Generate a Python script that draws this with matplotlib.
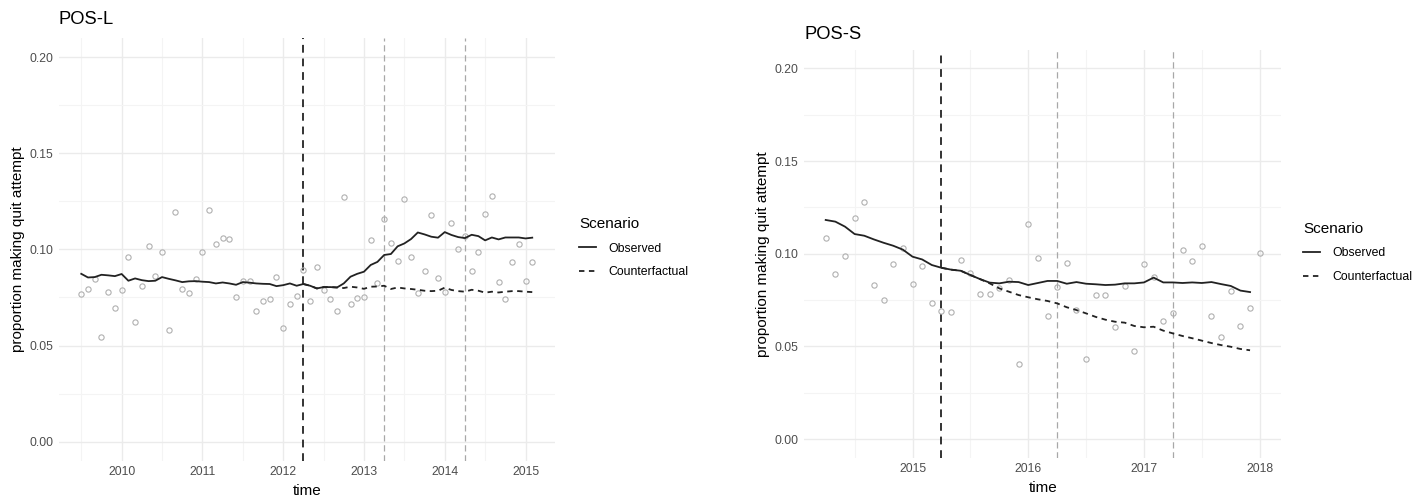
import numpy as np
import matplotlib
matplotlib.use("Agg")
import matplotlib.pyplot as plt
from matplotlib.lines import Line2D

plt.rcParams['font.family'] = ['Liberation Sans', 'DejaVu Sans']

# ---- POS-L : monthly from Jul 2009 ----
L_START = 2009.5
L_POINTS = [0.0769, 0.0792, 0.0847, 0.0546, 0.0776, 0.0693, 0.0789, 0.0960, 0.0622, 0.0809,
            0.1016, 0.0860, 0.0988, 0.0579, 0.1194, 0.0795, 0.0775, 0.0846, 0.0988, 0.1205,
            0.1028, 0.1061, 0.1054, 0.0752, 0.0834, 0.0837, 0.0679, 0.0733, 0.0743, 0.0856,
            0.0589, 0.0716, 0.0756, 0.0891, 0.0730, 0.0908, 0.0787, 0.0743, 0.0679, 0.1274,
            0.0718, 0.0745, 0.0752, 0.1047, 0.0826, 0.1158, 0.1031, 0.0939, 0.1262, 0.0962,
            0.0771, 0.0889, 0.1179, 0.0849, 0.0776, 0.1135, 0.1002, 0.1071, 0.0887, 0.0984,
            0.1182, 0.1276, 0.0828, 0.0743, 0.0932, 0.1029, 0.0834, 0.0932]
L_OBS = [0.0873, 0.0854, 0.0856, 0.0868, 0.0865, 0.0861, 0.0872, 0.0837, 0.0849, 0.0840,
         0.0835, 0.0837, 0.0856, 0.0847, 0.0839, 0.0830, 0.0834, 0.0835, 0.0832, 0.0830,
         0.0823, 0.0828, 0.0823, 0.0816, 0.0830, 0.0827, 0.0823, 0.0821, 0.0820, 0.0809,
         0.0814, 0.0823, 0.0811, 0.0820, 0.0811, 0.0797, 0.0804, 0.0804, 0.0802, 0.0823,
         0.0858, 0.0873, 0.0884, 0.0919, 0.0935, 0.0971, 0.0976, 0.1016, 0.1031, 0.1054,
         0.1088, 0.1078, 0.1066, 0.1061, 0.1090, 0.1075, 0.1064, 0.1059, 0.1076, 0.1069,
         0.1047, 0.1062, 0.1052, 0.1062, 0.1062, 0.1062, 0.1057, 0.1061]
L_CF_START = 33  # counterfactual begins at intervention month
L_CF = [0.0820, 0.0811, 0.0797, 0.0804, 0.0804, 0.0802, 0.0799, 0.0806, 0.0802, 0.0795,
        0.0806, 0.0807, 0.0811, 0.0794, 0.0802, 0.0797, 0.0794, 0.0790, 0.0785, 0.0783,
        0.0785, 0.0801, 0.0789, 0.0783, 0.0780, 0.0790, 0.0785, 0.0775, 0.0780, 0.0776,
        0.0780, 0.0783, 0.0783, 0.0780, 0.0778]
L_VLINES = [2012.25, 2013.25, 2014.25]
L_XTICKS = [2010, 2011, 2012, 2013, 2014, 2015]

# ---- POS-S : monthly from Apr 2014 ----
S_START = 2014.25
S_POINTS = [0.1085, 0.0892, 0.0989, 0.1194, 0.1277, 0.0831, 0.0748, 0.0943, 0.1032, 0.0835,
            0.0933, 0.0734, 0.0689, 0.0685, 0.0964, 0.0894, 0.0781, 0.0781, 0.0817, 0.0856,
            0.0403, 0.1162, 0.0978, 0.0665, 0.0822, 0.0952, 0.0694, 0.0430, 0.0779, 0.0779,
            0.0604, 0.0827, 0.0477, 0.0944, 0.0876, 0.0637, 0.0678, 0.1018, 0.0959, 0.1043,
            0.0664, 0.0550, 0.0800, 0.0608, 0.0707, 0.1002]
S_OBS = [0.1182, 0.1173, 0.1146, 0.1106, 0.1097, 0.1077, 0.1059, 0.1043, 0.1022, 0.0984,
         0.0969, 0.0939, 0.0924, 0.0914, 0.0908, 0.0885, 0.0863, 0.0844, 0.0840, 0.0849,
         0.0847, 0.0831, 0.0842, 0.0853, 0.0853, 0.0838, 0.0847, 0.0838, 0.0835, 0.0831,
         0.0833, 0.0840, 0.0840, 0.0845, 0.0871, 0.0845, 0.0845, 0.0842, 0.0845, 0.0842,
         0.0847, 0.0836, 0.0826, 0.0801, 0.0793]
S_CF_START = 12
S_CF = [0.0924, 0.0914, 0.0908, 0.0885, 0.0863, 0.0840, 0.0813, 0.0795, 0.0777, 0.0765,
        0.0754, 0.0745, 0.0732, 0.0711, 0.0696, 0.0678, 0.0659, 0.0644, 0.0633, 0.0628,
        0.0610, 0.0603, 0.0606, 0.0585, 0.0570, 0.0556, 0.0544, 0.0531, 0.0518, 0.0507,
        0.0498, 0.0486, 0.0479]
S_VLINES = [2015.25, 2016.25, 2017.25]
S_XTICKS = [2015, 2016, 2017, 2018]

W, H = 1424, 497
fig = plt.figure(figsize=(W / 100, H / 100), dpi=100)
fig.patch.set_facecolor('white')

LINE_COL = '#222222'
PT_COL = '#b0b0b0'
TXT_COL = '#4d4d4d'


def px_axes(x0, x1, y0, y1):
    # pixel box (left, right, top, bottom) -> figure axes
    return fig.add_axes([x0 / W, 1 - y1 / H, (x1 - x0) / W, (y1 - y0) / H])


def panel(ax, start, points, obs, cf_start, cf, vlines, xticks, title, title_pad):
    t_pts = start + np.arange(len(points)) / 12
    t_obs = start + np.arange(len(obs)) / 12
    t_cf = start + (cf_start + np.arange(len(cf))) / 12

    ax.set_xticks(xticks)
    ax.set_xticklabels([str(x) for x in xticks])
    ax.set_xticks(np.arange(xticks[0] - 1, xticks[-1] + 1, 0.5), minor=True)
    ax.set_yticks([0.0, 0.05, 0.10, 0.15, 0.20])
    ax.set_yticklabels(['0.00', '0.05', '0.10', '0.15', '0.20'])
    ax.set_yticks([0.025, 0.075, 0.125, 0.175], minor=True)

    # ggplot-like 5% expansion around the data
    lo, hi = t_pts[0], t_pts[-1]
    pad = (hi - lo) * 0.05
    ax.set_xlim(lo - pad, hi + pad)
    ax.set_ylim(-0.01, 0.21)

    ax.grid(which='major', color='#ebebeb', linewidth=1.0)
    ax.grid(which='minor', color='#f4f4f4', linewidth=0.8)
    ax.set_axisbelow(True)
    for s in ax.spines.values():
        s.set_visible(False)
    ax.tick_params(which='both', length=0, labelsize=8.8, labelcolor=TXT_COL, pad=4)

    ax.axvline(vlines[0], color='#333333', linestyle=(0, (4, 3)), linewidth=1.4, zorder=2)
    for v in vlines[1:]:
        ax.axvline(v, color='#a8a8a8', linestyle=(0, (5, 3)), linewidth=0.9, zorder=2)

    ax.plot(t_pts, points, linestyle='none', marker='o', markersize=3.8,
            markerfacecolor='none', markeredgecolor=PT_COL, markeredgewidth=0.8, zorder=3)
    ax.plot(t_cf, cf, color=LINE_COL, linestyle=(0, (3, 2.5)), linewidth=1.3, zorder=4)
    ax.plot(t_obs, obs, color=LINE_COL, linewidth=1.3, zorder=5)

    ax.set_xlabel('time', fontsize=11, color='black', labelpad=4)
    ax.set_ylabel('proportion making quit attempt', fontsize=11, color='black', labelpad=3)
    ax.set_title(title, fontsize=13.2, loc='left', pad=title_pad)


def legend(ax, x, y):
    handles = [Line2D([], [], color=LINE_COL, linewidth=1.3),
               Line2D([], [], color=LINE_COL, linewidth=1.3, linestyle=(0, (3, 2.5)))]
    ax.legend(handles, ['Observed', 'Counterfactual'], title='Scenario',
              loc='upper left', bbox_to_anchor=(x / W, 1 - y / H),
              bbox_transform=fig.transFigure, frameon=False, fontsize=8.8,
              title_fontsize=11, alignment='left', handlelength=1.4,
              handletextpad=1.0, labelspacing=0.95, borderaxespad=0)


ax1 = px_axes(58.7, 554.8, 37.9, 460.9)
panel(ax1, L_START, L_POINTS, L_OBS, L_CF_START, L_CF, L_VLINES, L_XTICKS, 'POS-L', 10)
legend(ax1, 574, 212)

ax2 = px_axes(804.0, 1281.4, 49.8, 457.6)
panel(ax2, S_START, S_POINTS, S_OBS, S_CF_START, S_CF, S_VLINES, S_XTICKS, 'POS-S', 8)
legend(ax2, 1298, 217)

fig.savefig('out.png', dpi=100)
